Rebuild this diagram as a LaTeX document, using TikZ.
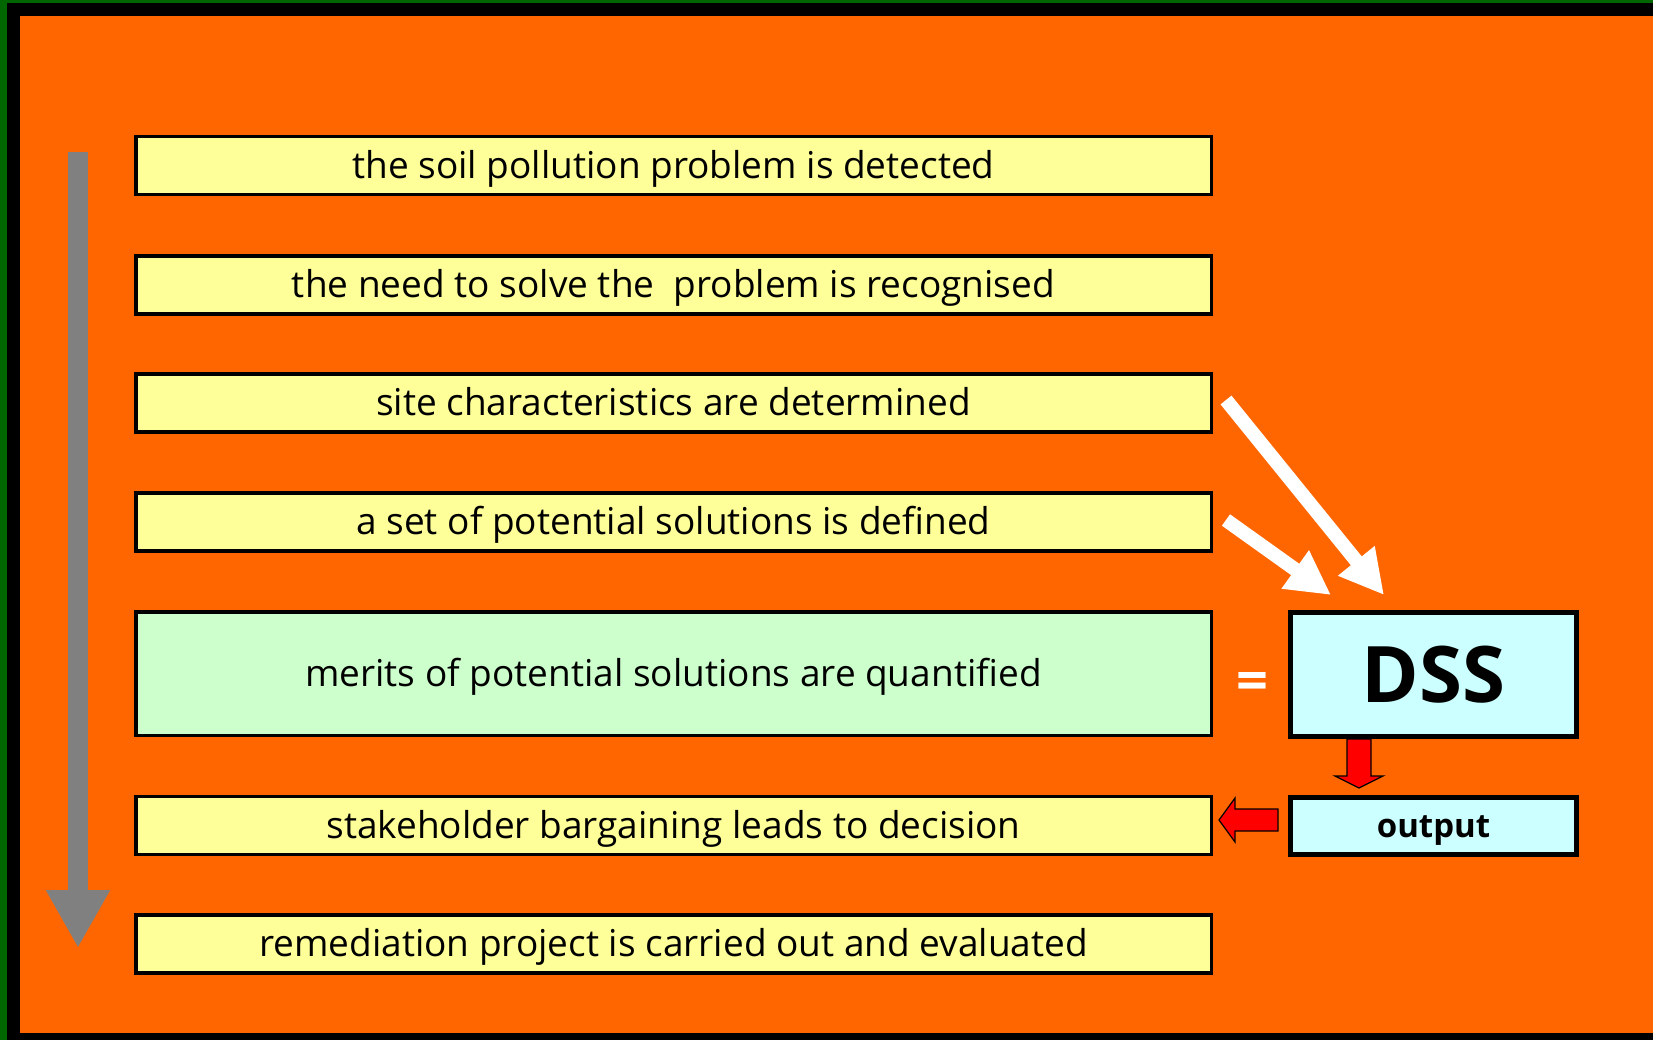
\documentclass[tikz,border=0pt]{standalone}
\usepackage{fontspec}
\setmainfont{Open Sans}
\usetikzlibrary{arrows.meta}

\definecolor{bgorange}{HTML}{FF6600}
\definecolor{framegreen}{HTML}{006600}
\definecolor{stepyellow}{HTML}{FFFF99}
\definecolor{meritgreen}{HTML}{CCFFCC}
\definecolor{dsscyan}{HTML}{CCFFFF}

\begin{document}
\begin{tikzpicture}[
    x=0.5pt, y=-0.5pt,
    font=\fontsize{18.5}{22}\selectfont,
    stepbox/.style={draw, line width=1.75pt, fill=stepyellow,
        minimum width=537.75pt, minimum height=29pt, inner sep=0pt,
        text height=14pt, text depth=1.2pt},
    dssbox/.style={draw, line width=2.5pt, fill=dsscyan,
        minimum width=143pt, inner sep=0pt},
    feed/.style={white, line width=7pt, -{Triangle[length=22pt,width=22pt]}},
    redblock/.style={fill=red, draw=black, line width=0.6pt, line join=miter}
]

    % Frame and background
    \fill[black] (0,0) rectangle (1653,1040);
    \fill[framegreen] (0,0) rectangle (7,1040);
    \fill[framegreen] (0,0) rectangle (1653,3);
    \fill[bgorange] (20,16) rectangle (1653,1033);

    % Time axis
    \coordinate (start) at (78,152);
    \coordinate (finish) at (78,948);
    \draw[line width=10pt, gray, -{Triangle[length=29pt,width=30pt]}] (start) -- (finish);

    % Steps
    \node[stepbox] (detect) at (673.5,165.5) {the soil pollution problem is detected};
    \node[stepbox] (need) at (673.5,285) {the need to solve the\ \ problem is recognised};
    \node[stepbox] (site) at (673.5,403) {site characteristics are determined};
    \node[stepbox] (options) at (673.5,522) {a set of potential solutions is defined};
    \node[stepbox, fill=meritgreen, minimum height=61.75pt] (merits) at (673.5,673.5)
        {merits of potential solutions are quantified};
    \node[stepbox] (bargain) at (673.5,825.5) {stakeholder bargaining leads to decision};
    \node[stepbox] (remedy) at (673.5,944) {remediation project is carried out and evaluated};

    % DSS and its output
    \node[dssbox, minimum height=62pt, font=\bfseries\fontsize{39}{42}\selectfont]
        (dss) at (1433.5,674.5) {DSS};
    \node[dssbox, minimum height=28.5pt, text height=12pt, text depth=0.5pt,
        font=\bfseries\fontsize{16.5}{20}\selectfont] (output) at (1433.5,826) {output};
    \node[text=white, font=\bfseries\fontsize{28}{30}\selectfont] (equals) at (1252,686) {=};

    % Inputs to the DSS
    \draw[feed] ([xshift=6.5pt,yshift=1.5pt]site.east) -- ([xshift=48pt,yshift=7.5pt]dss.north west);
    \draw[feed] ([xshift=6.5pt,yshift=1pt]options.east) -- ([xshift=21.5pt,yshift=7.5pt]dss.north west);

    % Block arrows
    \draw[redblock, shift={(dss.south west)}]
        (59,0) -- (59,37) -- (47,37) -- (71,49) -- (95,37) -- (83,37) -- (83,0) -- cycle;
    \draw[redblock, shift={(output.west)}]
        (-10,-17) -- (-53,-17) -- (-53,-28) -- (-69,-6) -- (-53,16) -- (-53,5) -- (-10,5) -- cycle;

\end{tikzpicture}
\end{document}
